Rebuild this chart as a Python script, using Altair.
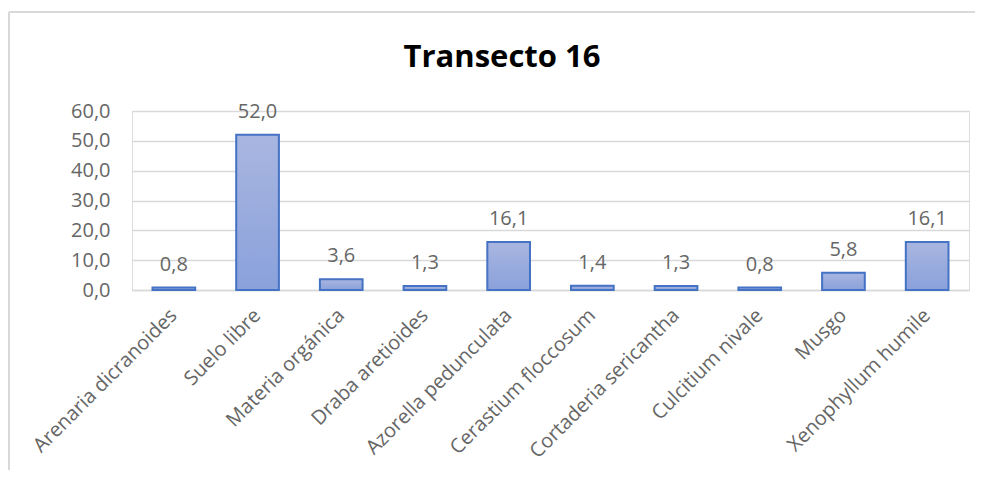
import altair as alt
import pandas as pd

categories = ["Arenaria dicranoides", "Suelo libre", "Materia orgánica", "Draba aretioides",
              "Azorella pedunculata", "Cerastium floccosum", "Cortaderia sericantha",
              "Culcitium nivale", "Musgo", "Xenophyllum humile"]
values = [0.8, 52.0, 3.6, 1.3, 16.1, 1.4, 1.3, 0.8, 5.8, 16.1]
y_ticks = [0, 10, 20, 30, 40, 50, 60]
title_text = ["Transecto 16"]

df = pd.DataFrame({"cat": categories, "value": values})

FONT = "Open Sans"
GRAY = "#666666"

x_enc = alt.X("cat:N", sort=categories, title=None,
              scale=alt.Scale(paddingInner=0.49, paddingOuter=0.245),
              axis=alt.Axis(labelAngle=-45, labelAlign="right", labelBaseline="middle",
                            labelFont=FONT, labelFontSize=20, labelColor=GRAY,
                            labelPadding=22, ticks=False, domain=True,
                            domainColor="#d9d9d9", domainWidth=1.5, labelLimit=400))
y_enc = alt.Y("value:Q", title=None,
              scale=alt.Scale(domain=[0, 60], nice=False),
              axis=alt.Axis(values=y_ticks, tickCount=7, labelOverlap=False,
                            labelFont=FONT, labelFontSize=20,
                            labelColor=GRAY, labelPadding=22, ticks=False, domain=False,
                            gridColor="#d9d9d9", gridWidth=1.5,
                            labelExpr="replace(format(datum.value, '.1f'), '.', ',')"))

base = alt.Chart(df)

bars = base.mark_bar(
    fill=alt.Gradient(gradient="linear",
                      stops=[alt.GradientStop(color="#a9b6e0", offset=0),
                             alt.GradientStop(color="#8aa1db", offset=1)],
                      x1=0, x2=0, y1=0, y2=1),
    stroke="#4472c4", strokeWidth=2
).encode(x=x_enc, y=y_enc)

labels = base.mark_text(dy=-17, baseline="alphabetic", align="center",
                        font=FONT, fontSize=20, color=GRAY).transform_calculate(
    lbl="replace(format(datum.value, '.1f'), '.', ',')"
).encode(x=alt.X("cat:N", sort=categories), y="value:Q", text="lbl:N")

title = alt.Chart(pd.DataFrame({"t": title_text})).mark_text(
    font=FONT, fontSize=31, fontWeight="bold", color="#000000",
    align="center", baseline="alphabetic"
).encode(x=alt.value(370), y=alt.value(-44), text="t:N")

frame_left = alt.Chart(pd.DataFrame({"t": title_text})).mark_rule(
    color="#d9d9d9", strokeWidth=2
).encode(x=alt.value(-123), y=alt.value(-99), y2=alt.value(400))
frame_top = alt.Chart(pd.DataFrame({"t": title_text})).mark_rule(
    color="#d9d9d9", strokeWidth=2
).encode(x=alt.value(-123), x2=alt.value(900), y=alt.value(-99))

chart = alt.layer(frame_left, frame_top, bars, labels, title).properties(
    width=837, height=179,
    padding={"left": 124, "top": 103, "right": 6, "bottom": 180},
    autosize=alt.AutoSizeParams(type="none")
).configure_view(stroke=None).configure(background="white")

chart.save("out.html", embed_options={"renderer": "svg", "actions": False})
